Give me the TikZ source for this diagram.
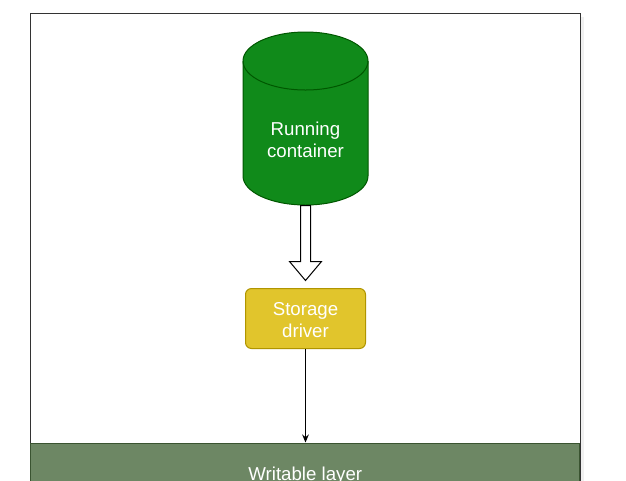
\documentclass[tikz,border=0pt]{standalone}
\usepackage{fontspec}
\setmainfont{Liberation Sans}
\usetikzlibrary{arrows.meta,calc}
\definecolor{cylfill}{RGB}{16,138,26}
\definecolor{cylline}{RGB}{0,87,0}
\definecolor{sdfill}{RGB}{225,197,44}
\definecolor{sdline}{RGB}{176,149,0}
\definecolor{wlfill}{RGB}{109,135,100}
\definecolor{wlline}{RGB}{58,84,49}
\begin{document}
\begin{tikzpicture}[x=0.75pt,y=-0.75pt,line width=0.75pt,
  lbl/.style={text=white,font=\fontsize{14}{16.5}\selectfont,align=center,inner sep=0pt},
  boxsd/.style={draw=sdline,fill=sdfill,rounded corners=4.5pt,minimum width=90pt,minimum height=45pt,inner sep=0pt},
  boxwl/.style={draw=wlline,fill=wlfill,minimum width=412.1pt,minimum height=45pt,inner sep=0pt}]
\useasboundingbox (0,0) rectangle (626,480);
\clip (0,0) rectangle (626,480);
% frame with faint shadow
\fill[black!6] (33.5,16.5) rectangle (584,530);
\draw[draw=black!80,fill=white] (30.5,13.5) rectangle (580,530);
% running container (cylinder)
\node[minimum width=93.75pt,minimum height=129.75pt,inner sep=0pt] (cyl) at (305.5,118.5) {};
\draw[draw=cylline,fill=cylfill] (243,61) -- (243,176) arc (180:360:46.875pt and 21.75pt) -- (368,61) arc (0:180:46.875pt and 21.75pt) -- cycle;
\draw[draw=cylline] (243,61) arc (180:360:46.875pt and 21.75pt);
\node[lbl] (cyltxt) at (305.5,140) {Running\\container};
% block arrow
\draw[fill=white] ($(cyl.south)+(-5,0)$) -- ++(0,56) -- ++(-11,0) -- ($(cyl.south)+(0,75)$) -- ++(16,-19) -- ++(-11,0) -- ++(0,-56) -- cycle;
% storage driver
\node[boxsd] (sd) at (305.5,318.5) {};
\node[lbl] (sdtxt) at ($(sd.center)+(0,1.5)$) {Storage\\driver};
% writable layer
\node[boxwl] (wl) at (305.25,473) {};
\node[lbl] (wltxt) at ($(wl.center)+(0,3)$) {Writable layer};
% connector
\draw[-{Stealth[length=6pt,width=5pt]}] (sd.south) -- (sd.south |- wl.north);
\end{tikzpicture}
\end{document}
